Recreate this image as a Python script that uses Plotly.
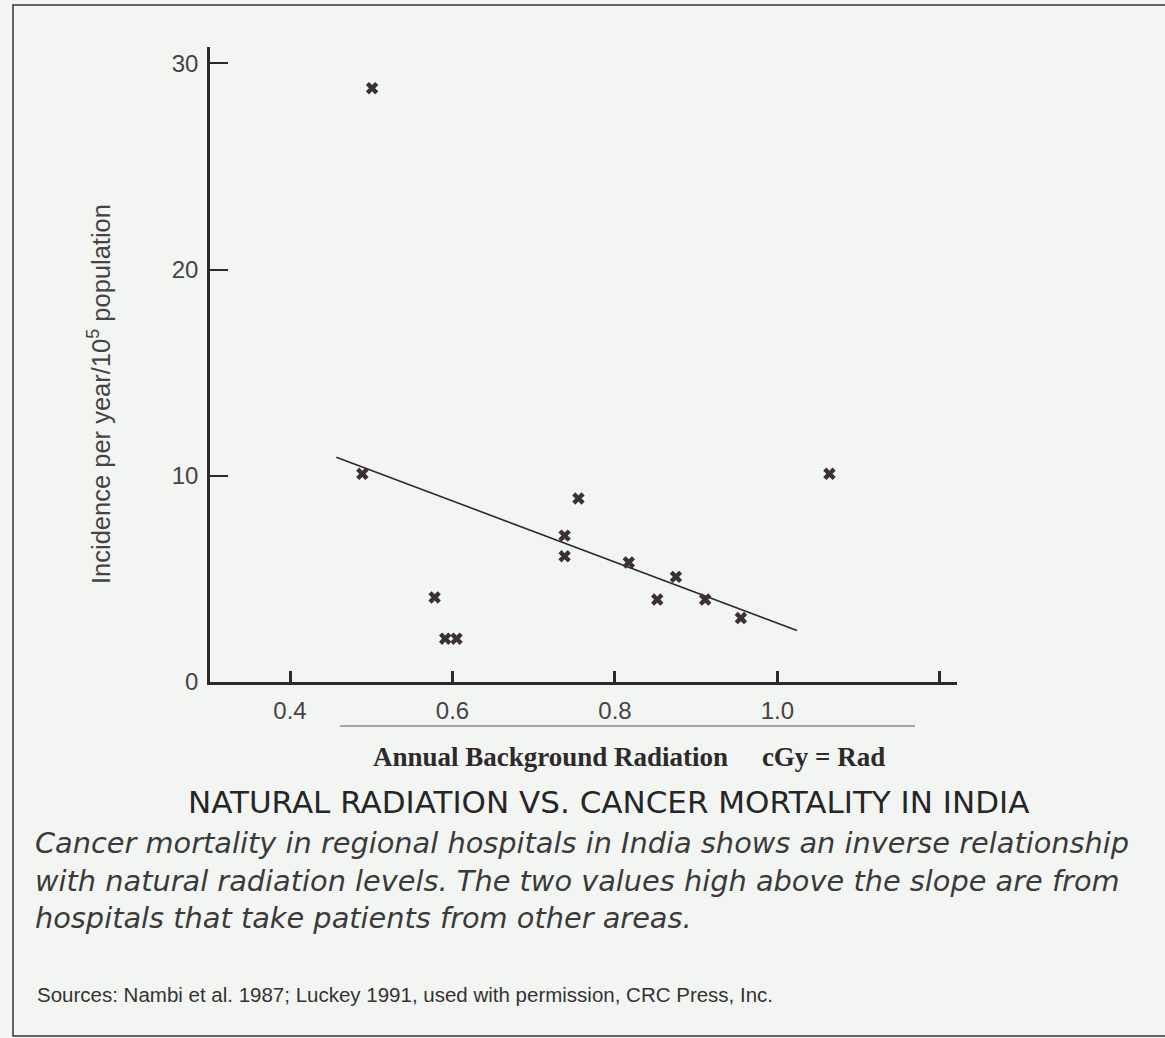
import plotly.graph_objects as go

# ---- data ----
radiation = [0.501, 0.489, 0.578, 0.591, 0.605, 0.738, 0.738, 0.755, 0.817, 0.852, 0.875, 0.911, 0.955, 1.064]
incidence = [28.8, 10.1, 4.1, 2.1, 2.1, 7.1, 6.1, 8.9, 5.8, 4.0, 5.1, 4.0, 3.1, 10.1]
trend_x = [0.457, 1.024]
trend_y = [10.9, 2.5]
x_tickvals = [0.4, 0.6, 0.8, 1.0]
x_ticktext = ["0.4", "0.6", "0.8", "1.0"]
x_minor_tickvals = [1.2]
y_tickvals = [0, 10, 20, 30]
y_ticktext = ["0", "10", "20", "30"]

W, H = 1165, 1038
L, R, T, B = 210, 957, 47, 682  # plot area in pixels

def px(x):
    return (x - L) / (R - L)

def py(y):
    return (B - y) / (B - T)

BG = "#f3f5f2"
INK = "#2e2a2c"

fig = go.Figure()
fig.add_trace(go.Scatter(x=trend_x, y=trend_y, mode="lines",
                         line=dict(color=INK, width=1.6), showlegend=False))
fig.add_trace(go.Scatter(x=radiation, y=incidence, mode="markers",
                         marker=dict(symbol="x", size=11, color="#3b3036",
                                     line=dict(width=0)),
                         showlegend=False))

fig.update_layout(
    width=W, height=H,
    margin=dict(l=L, r=W - R, t=T, b=H - B),
    paper_bgcolor=BG, plot_bgcolor=BG,
    font=dict(family="Liberation Sans, Arial", color="#3a3a3a"),
    xaxis=dict(range=[0.3015, 1.221], showgrid=False, zeroline=False,
               showline=True, linecolor=INK, linewidth=2.5,
               ticks="inside", ticklen=11, tickwidth=2.5, tickcolor=INK,
               tickvals=x_tickvals, ticktext=x_ticktext,
               minor=dict(tickvals=x_minor_tickvals, ticks="inside", ticklen=11,
                          tickwidth=2.5, tickcolor=INK, showgrid=False),
               tickfont=dict(size=24, color="#444"), ticklabelstandoff=5),
    yaxis=dict(range=[0, 30.8], showgrid=False, zeroline=False,
               showline=True, linecolor=INK, linewidth=2.5,
               ticks="inside", ticklen=18, tickwidth=2, tickcolor=INK,
               tickvals=y_tickvals, ticktext=y_ticktext,
               tickfont=dict(size=24, color="#444"), ticklabelstandoff=4),
)

shapes = []
# outer frame of the scanned page
shapes.append(dict(type="rect", xref="paper", yref="paper",
                   x0=px(13), x1=px(1175), y0=py(1036), y1=py(5),
                   line=dict(color="#333", width=1.5), fillcolor="rgba(0,0,0,0)",
                   layer="below"))
# faint rule above the x-axis title
shapes.append(dict(type="line", xref="paper", yref="paper",
                   x0=px(340), x1=px(915), y0=py(726), y1=py(726),
                   line=dict(color="#8a8a8a", width=1.5)))
fig.update_layout(shapes=shapes)

ann = []
ann.append(dict(text="Incidence per year/10<sup>5</sup> population", textangle=-90,
                x=px(99), y=py(394), xref="paper", yref="paper",
                showarrow=False, xanchor="center", yanchor="middle",
                font=dict(family="Liberation Sans, Arial", size=25.5, color="#444")))
ann.append(dict(text="<b>Annual Background Radiation     cGy = Rad</b>",
                x=px(629), y=py(757), xref="paper", yref="paper",
                showarrow=False, xanchor="center", yanchor="middle",
                font=dict(family="Liberation Serif, Times New Roman", size=27, color="#2e2a2c")))
ann.append(dict(text="NATURAL RADIATION VS. CANCER MORTALITY IN INDIA",
                x=px(608), y=py(802), xref="paper", yref="paper",
                showarrow=False, xanchor="center", yanchor="middle",
                font=dict(family="DejaVu Sans, Open Sans", size=31, color="#262626")))
caption = ["Cancer mortality in regional hospitals in India shows an inverse relationship",
           "with natural radiation levels. The two values high above the slope are from",
           "hospitals that take patients from other areas."]
for i, line in enumerate(caption):
    ann.append(dict(text="<i>" + line + "</i>",
                    x=px(33), y=py(843 + 37.5 * i), xref="paper", yref="paper",
                    showarrow=False, xanchor="left", yanchor="middle",
                    font=dict(family="DejaVu Sans, Open Sans", size=28.8, color="#3a3a3a")))
ann.append(dict(text="Sources: Nambi et al. 1987; Luckey 1991, used with permission, CRC Press, Inc.",
                x=px(35), y=py(994), xref="paper", yref="paper",
                showarrow=False, xanchor="left", yanchor="middle",
                font=dict(family="Liberation Sans, Arial", size=20.5, color="#333")))
fig.update_layout(annotations=ann)

fig.write_html("out.html", config={"displayModeBar": False},
               post_script="document.body.style.margin='0';")
